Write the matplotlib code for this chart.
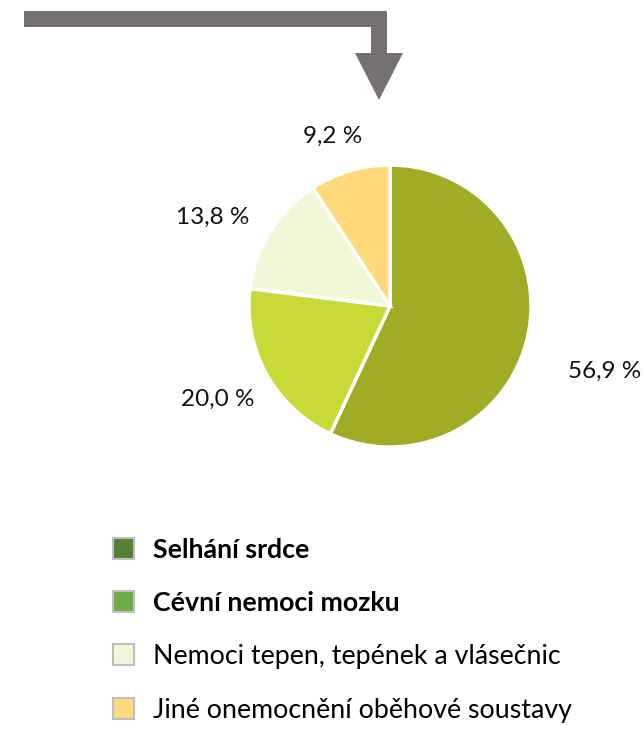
import matplotlib.pyplot as plt
from matplotlib.patches import Patch, Polygon

plt.rcParams['font.family'] = ['Lato', 'DejaVu Sans']

# data
shares = [56.9, 20.0, 13.8, 9.2]
share_labels = ["56,9 %", "20,0 %", "13,8 %", "9,2 %"]
pie_colors = ["#A0AC24", "#C8DA38", "#F2F7D8", "#FFD97A"]
# label spots in pie radius units
label_pos = [(1.52, -0.46), (-1.22, -0.66), (-1.26, 0.63), (-0.41, 1.20)]

legend_names = ["Selhání srdce", "Cévní nemoci mozku",
                "Nemoci tepen, tepének a vlásečnic",
                "Jiné onemocnění oběhové soustavy"]
legend_colors = ["#548235", "#70AD47", "#F2F7DA", "#FFD97A"]
legend_bold = [True, True, False, False]

W, H = 643, 729
fig = plt.figure(figsize=(W / 100, H / 100), dpi=100)

# background axes in pixel units for the arrow
bg = fig.add_axes([0, 0, 1, 1])
bg.set_xlim(0, W)
bg.set_ylim(H, 0)
bg.axis('off')
arrow = [(24, 11), (387, 11), (387, 53), (403, 53), (379, 100),
         (355, 53), (371, 53), (371, 27), (24, 27)]
bg.add_patch(Polygon(arrow, closed=True, facecolor="#767171", edgecolor="none"))

# pie
cx, cy, r = 390, 306, 141
ax = fig.add_axes([(cx - r) / W, (H - cy - r) / H, 2 * r / W, 2 * r / H])
ax.pie(shares, colors=pie_colors, startangle=90, counterclock=False,
       wedgeprops=dict(edgecolor="white", linewidth=2.5))
ax.set_xlim(-1, 1)
ax.set_ylim(-1, 1)
ax.set_aspect('equal')
for txt, (x, y) in zip(share_labels, label_pos):
    ax.text(x, y, txt, ha='center', va='center', fontsize=17.5, color="#111111")

handles = [Patch(facecolor=c, edgecolor="#BFBFBF", linewidth=1.5) for c in legend_colors]
leg = fig.legend(handles, legend_names, loc='upper left',
                 bbox_to_anchor=(113 / W, 1 - 538 / H), frameon=False,
                 fontsize=19.3, handlelength=0.8, handleheight=0.8,
                 handletextpad=0.7, labelspacing=1.08, borderpad=0,
                 borderaxespad=0)
for t, b in zip(leg.get_texts(), legend_bold):
    if b:
        t.set_fontweight('bold')

fig.savefig("out.png", dpi=100)
